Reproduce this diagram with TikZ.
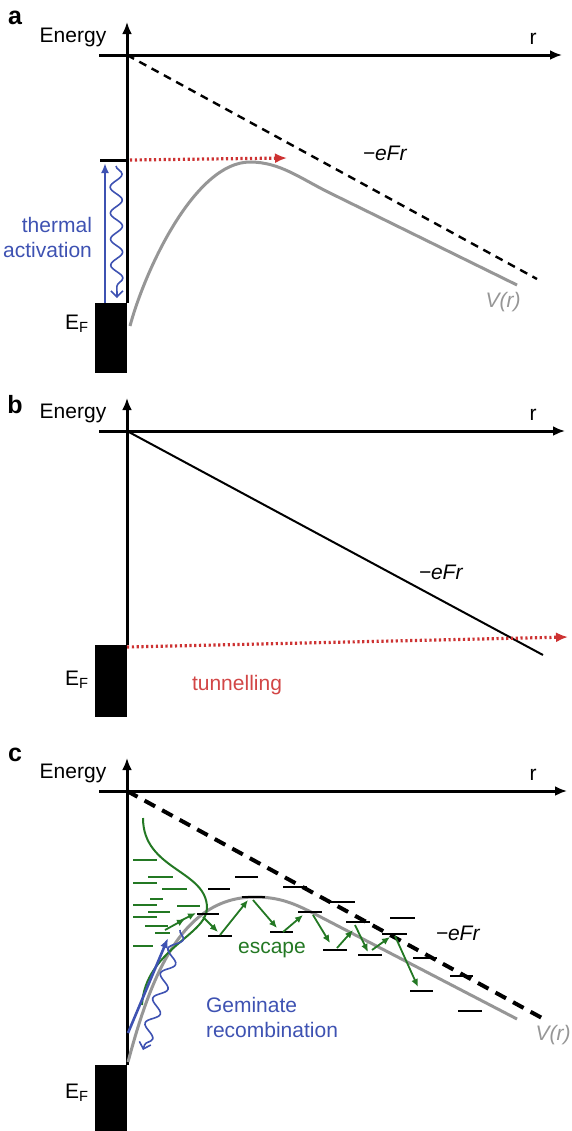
\documentclass[tikz,border=0pt]{standalone}
\usepackage{fontspec}
\setmainfont{Liberation Sans}
\usetikzlibrary{arrows.meta,decorations.pathmorphing}
\definecolor{actblue}{RGB}{62,82,178}
\definecolor{tunred}{RGB}{205,50,50}
\definecolor{hopgreen}{RGB}{35,120,35}
\definecolor{vgray}{RGB}{150,150,150}
\tikzset{
  axis/.style={draw, line width=1.5pt, -{Latex[length=6pt,width=5pt]}},
  reddots/.style={draw, tunred, line width=1.6pt, dash pattern=on 1.1pt off 1.3pt, -{Latex[length=6pt,width=5pt]}},
  vcurve/.style={draw, vgray, line width=1.5pt},
  wavy/.style={draw, actblue, line width=0.8pt, decorate, decoration={snake, amplitude=3pt, segment length=13pt, post length=2pt}, -{Straight Barb[length=3pt,width=6pt]}},
  level/.style={draw, line width=1.2pt},
  glevel/.style={draw, hopgreen, line width=1.1pt},
  hop/.style={draw, hopgreen, line width=0.9pt, -{Latex[length=4pt,width=3.5pt]}},
}
\begin{document}
\begin{tikzpicture}[x=0.5pt, y=-0.5pt, font=\fontsize{10.5}{12.5}\selectfont]
    \useasboundingbox(0,0)rectangle(572,1131);
    % axes and metal of the three panels
    \foreach \p/\y/\ly/\rx/\t/\b/\ef in {a/55/18/562/303/373/324, b/431/405/565/645/717/680, c/791/755/567/1065/1131/1093}{
        \coordinate(O\p)at(127,\y);
        \node[font=\bfseries\fontsize{12.5}{14}\selectfont](lab\p)at(15,\ly){\p};
        \node(energy\p)at(73,\y-18){Energy};
        \node(r\p)at(533,\y-16){r};
        \path[axis](99,\y)to(\rx,\y);
        \path[axis](127,\t)to(127,\y-33);
        \path[fill=black](95,\t)rectangle(127,\b);
        \node(EF\p)at(77,\ef){E\textsubscript{F}};
    }
    % a: thermal activation
    \coordinate(fa)at(537,279);
    \path[draw, line width=1.2pt, dash pattern=on 4pt off 3pt](Oa)to(fa);
    \coordinate(lvl)at(100,160);
    \coordinate(lvr)at(127,160);
    \path[draw, line width=1.5pt](lvl)to(lvr);
    \path[reddots](130,160)to(287,158);
    \path[vcurve](130,326)..controls(145,270)and(195,162)..(250,162)..controls(280,162)and(300,178.3)..(330,193)to(517,285);
    \path[draw, actblue, line width=1.3pt, -{Latex[length=5pt,width=4pt]}](105,303)to(105,163);
    \path[wavy](116,166)to(117,298);
    \node[actblue, align=right, anchor=east](thermal)at(99,237){thermal\\activation};
    \node(eFra)at(385,153){\textit{−eFr}};
    \node[vgray](Vra)at(503,302){\textit{V(r)}};
    % b: tunnelling
    \coordinate(fb)at(543,655);
    \path[draw, line width=1pt](Ob)to(fb);
    \path[reddots](127,647)to(568,637);
    \node(eFrb)at(441,572){\textit{−eFr}};
    \node[tunred!90](tun)at(237,685){tunnelling};
    % c: escape and geminate recombination
    \coordinate(fc)at(542,1018);
    \path[draw, line width=2pt, dash pattern=on 6pt off 4pt](Oc)to(fc);
    \path[vcurve](128,1062)..controls(150,980)and(180,897)..(255,897)..controls(280,897)and(295,904)..(313,913)to(517,1019);
    \path[draw, hopgreen, line width=1pt](143,818)..controls(143,870)and(207,870)..(207,908)..controls(207,935)and(145,950)..(142,1005);
    \foreach \xa/\xb/\ly in {133/157/860, 148/173/877, 133/157/883, 162/187/889, 150/163/899, 133/157/905, 177/200/906, 148/170/912, 133/157/917, 145/168/926, 155/170/933, 133/153/946}
        \path[glevel](\xa,\ly)to(\xb,\ly);
    \foreach \xa/\xb/\ly in {208/230/889, 235/258/877, 197/219/914, 242/265/897, 208/232/936, 270/293/932, 283/307/887, 298/322/912, 330/355/902, 346/370/922, 390/415/918, 323/347/950, 358/382/955, 382/407/934, 413/437/958, 450/473/976, 410/433/991, 458/482/1011}
        \path[level](\xa,\ly)to(\xb,\ly);
    \foreach \ha/\hb in {{165,930}/{185,919}, {178,922}/{196,913}, {203,917}/{218,932}, {220,935}/{248,900}, {253,900}/{277,928}, {283,932}/{303,915}, {313,915}/{330,943}, {337,948}/{353,930}, {355,925}/{368,952}, {372,950}/{390,937}, {395,936}/{418,987}}
        \path[hop](\ha)to(\hb);
    \path[draw, actblue, line width=1.3pt, -{Latex[length=5pt,width=4pt]}](128,1033)to(168,938);
    \path[wavy](180,930)to(143,1050);
    \node[hopgreen](escape)at(272,950){escape};
    \node[actblue, align=left, anchor=west](gem)at(199,1017){Geminate\\recombination};
    \node(eFrc)at(458,933){\textit{−eFr}};
    \node[vgray](Vrc)at(553,1035){\textit{V(r)}};
\end{tikzpicture}
\end{document}
